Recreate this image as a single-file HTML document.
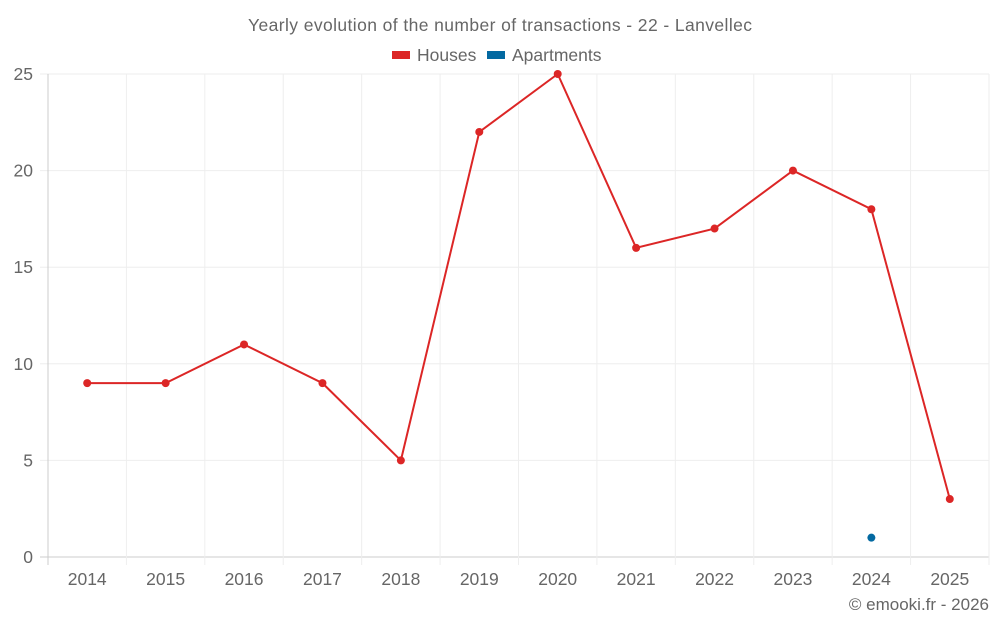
<!DOCTYPE html>
<html><head><meta charset="utf-8"><style>
body{margin:0;background:#fff;font-family:"Liberation Sans",sans-serif}
svg text{font-family:"Liberation Sans",sans-serif;fill:#666}
</style></head><body>
<svg id="c" width="1000" height="625">
<text x="500" y="31" text-anchor="middle" font-size="17.5" textLength="504">Yearly evolution of the number of transactions - 22 - Lanvellec</text>
<g>
<rect x="392" y="51" width="18" height="8" fill="#dc2626"/>
<text x="417" y="61" font-size="17.5">Houses</text>
<rect x="487" y="51" width="18" height="8" fill="#0369a1"/>
<text x="512" y="61" font-size="17.5">Apartments</text>
</g>
<g id="grid"></g><g id="axes"></g><g id="series"></g>
<text x="989" y="610" text-anchor="end" font-size="17">© emooki.fr - 2026</text>
</svg>
<script>
const years=["2014","2015","2016","2017","2018","2019","2020","2021","2022","2023","2024","2025"];
const houses=[9,9,11,9,5,22,25,16,17,20,18,3];
const apartments=[null,null,null,null,null,null,null,null,null,null,1,null];
const yTicks=[0,5,10,15,20,25];
const NS="http://www.w3.org/2000/svg";
const L=48,R=989,T=74,B=557,yMax=25;
const bw=(R-L)/years.length;
const xs=i=>L+bw*(i+0.5);
const ys=v=>B-(v/yMax)*(B-T);
function mk(t,a,p){const e=document.createElementNS(NS,t);for(const k in a)e.setAttribute(k,a[k]);p.appendChild(e);return e;}
const grid=document.getElementById('grid'),axes=document.getElementById('axes'),ser=document.getElementById('series');
yTicks.forEach(v=>{
 const g=mk('line',{x1:L-8,x2:R,y1:ys(v),y2:ys(v),stroke:v===0?'#ccc':'#eee'},grid);
 
 
 const t=mk('text',{x:33,y:ys(v)+6,'text-anchor':'end','font-size':17.5},axes);t.textContent=v;
 
 
});
for(let i=0;i<=years.length;i++){
 const g=mk('line',{x1:L+bw*i,x2:L+bw*i,y1:T,y2:B+8,stroke:i===0?'#ccc':'#eee'},grid);
 
 
}
years.forEach((y,i)=>{
 const t=mk('text',{x:xs(i),y:585,'text-anchor':'middle','font-size':17.5},axes);t.textContent=y;
 
 
});
let d='';houses.forEach((v,i)=>{if(v!=null)d+=(d?'L':'M')+xs(i)+' '+ys(v);});
const p=mk('path',{d:d,fill:'none',stroke:'#dc2626','stroke-width':2},ser);


houses.forEach((v,i)=>{if(v==null)return;
 const c=mk('circle',{cx:xs(i),cy:ys(v),r:4,fill:'#dc2626'},ser);
 
 
});
apartments.forEach((v,i)=>{if(v==null)return;
 const c=mk('circle',{cx:xs(i),cy:ys(v),r:4,fill:'#0369a1'},ser);
 
 
});
</script>
</body></html>
